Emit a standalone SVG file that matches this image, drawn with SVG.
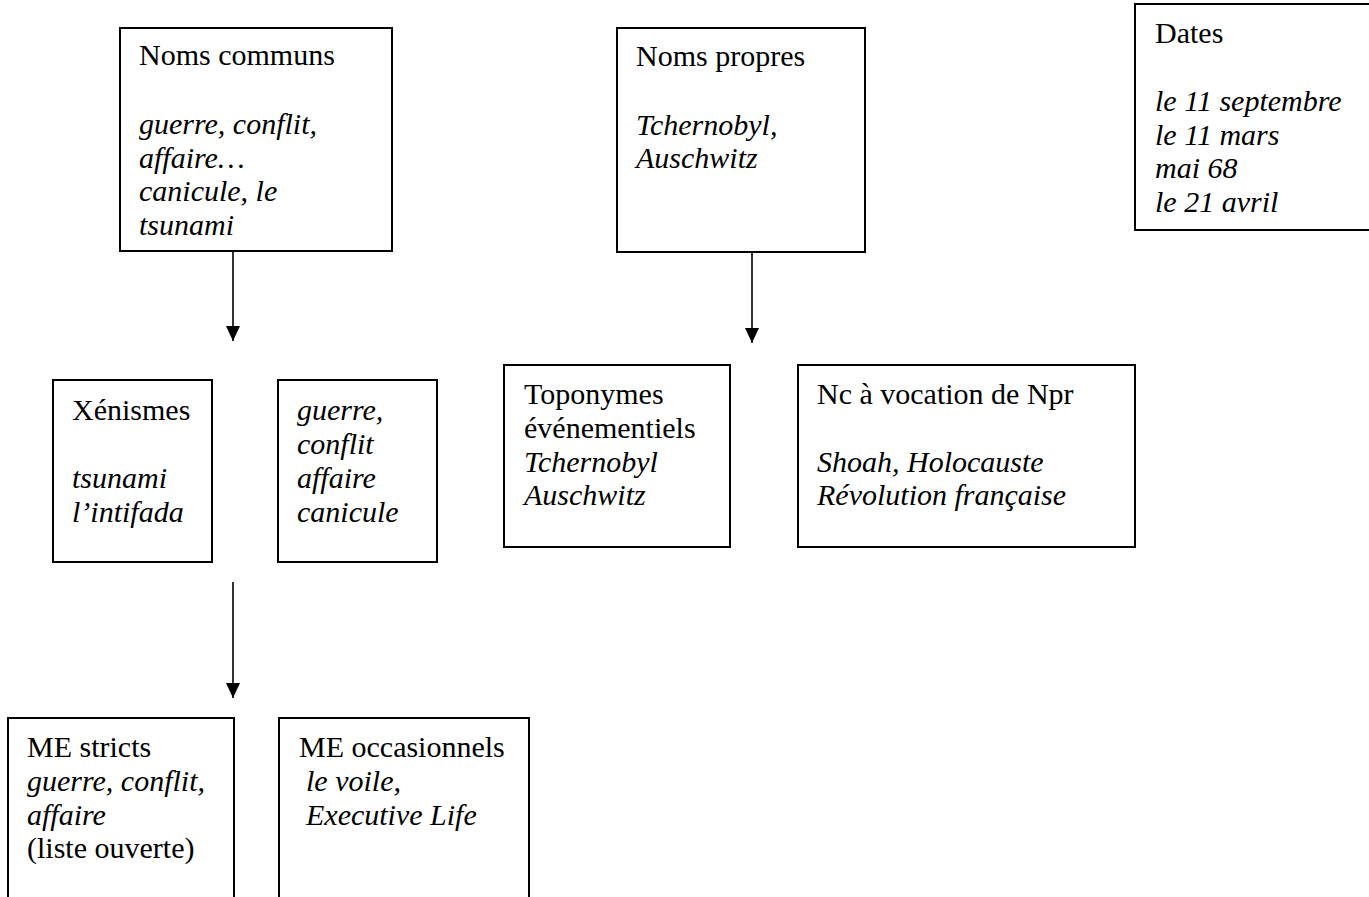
<svg xmlns="http://www.w3.org/2000/svg" width="1369" height="897" viewBox="0 0 1369 897">
<defs>
<style>
.box{fill:#fff;stroke:#000;stroke-width:2}
.t{font-family:"Liberation Serif","Times New Roman",serif;font-size:30px;fill:#000}
.i{font-style:italic}
.conn line{stroke:#000;stroke-width:1.6;fill:none}
</style>
<marker id="ah" markerUnits="userSpaceOnUse" markerWidth="16" markerHeight="16" refX="15" refY="7.5" orient="auto">
<path d="M0,0.5 L15,7.5 L0,14.5 z" fill="#000"/>
</marker>
</defs>
<rect width="1369" height="897" fill="#fff"/>

<g id="connectors" class="conn">
<line x1="233" y1="251" x2="233" y2="341" marker-end="url(#ah)"/>
<line x1="752" y1="252" x2="752" y2="343" marker-end="url(#ah)"/>
<line x1="233" y1="582" x2="233" y2="698" marker-end="url(#ah)"/>
</g>

<g id="noms-communs">
<rect class="box" x="120" y="28" width="272" height="223"/>
<text class="t" x="139" y="65">Noms communs</text>
<text class="t i" x="139" y="134">guerre, conflit,</text>
<text class="t i" x="139" y="167.5">affaire…</text>
<text class="t i" x="139" y="201">canicule, le</text>
<text class="t i" x="139" y="235">tsunami</text>
</g>

<g id="noms-propres">
<rect class="box" x="617" y="28" width="248" height="224"/>
<text class="t" x="636" y="66">Noms propres</text>
<text class="t i" x="636" y="134.5">Tchernobyl,</text>
<text class="t i" x="636" y="168">Auschwitz</text>
</g>

<g id="dates">
<rect class="box" x="1135" y="4" width="240" height="226"/>
<text class="t" x="1155" y="43">Dates</text>
<text class="t i" x="1155" y="111">le 11 septembre</text>
<text class="t i" x="1155" y="144.5">le 11 mars</text>
<text class="t i" x="1155" y="178">mai 68</text>
<text class="t i" x="1155" y="212">le 21 avril</text>
</g>

<g id="xenismes">
<rect class="box" x="53" y="380" width="159" height="182"/>
<text class="t" x="72" y="420">Xénismes</text>
<text class="t i" x="72" y="488">tsunami</text>
<text class="t i" x="72" y="522">l’intifada</text>
</g>

<g id="guerre-box">
<rect class="box" x="278" y="380" width="159" height="182"/>
<text class="t i" x="297" y="420">guerre,</text>
<text class="t i" x="297" y="454">conflit</text>
<text class="t i" x="297" y="488">affaire</text>
<text class="t i" x="297" y="522">canicule</text>
</g>

<g id="toponymes">
<rect class="box" x="504" y="365" width="226" height="182"/>
<text class="t" x="524" y="404">Toponymes</text>
<text class="t" x="524" y="438">événementiels</text>
<text class="t i" x="524" y="471.5">Tchernobyl</text>
<text class="t i" x="524" y="505">Auschwitz</text>
</g>

<g id="nc-npr">
<rect class="box" x="798" y="365" width="337" height="182"/>
<text class="t" x="817" y="404">Nc à vocation de Npr</text>
<text class="t i" x="817" y="471.5">Shoah, Holocauste</text>
<text class="t i" x="817" y="505">Révolution française</text>
</g>

<g id="me-stricts">
<path class="box" d="M8,905 L8,718 L234,718 L234,905"/>
<text class="t" x="27" y="757">ME stricts</text>
<text class="t i" x="27" y="791">guerre, conflit,</text>
<text class="t i" x="27" y="824.5">affaire</text>
<text class="t" x="27" y="858">(liste ouverte)</text>
</g>

<g id="me-occasionnels">
<path class="box" d="M279,905 L279,718 L529,718 L529,905"/>
<text class="t" x="299" y="757">ME occasionnels</text>
<text class="t i" x="306" y="791">le voile,</text>
<text class="t i" x="306" y="824.5">Executive Life</text>
</g>
</svg>
